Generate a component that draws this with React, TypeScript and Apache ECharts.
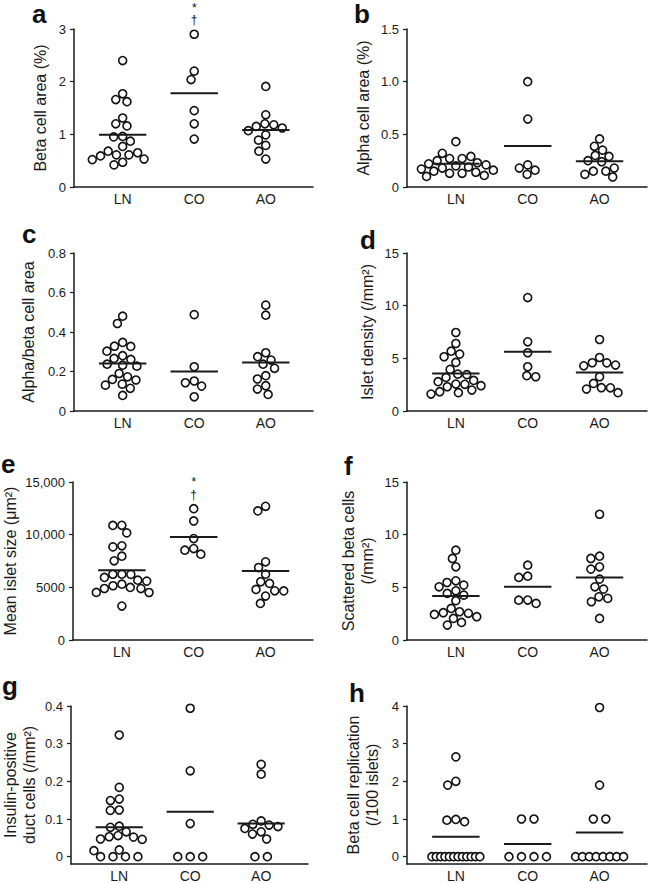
import React, { useEffect, useRef } from 'react';
import * as echarts from 'echarts';

const categories = ['LN', 'CO', 'AO'];

// a: Beta cell area (%)
const betaAreaLN = [2.40, 1.77, 1.66, 1.62, 1.31, 1.20, 1.16, 0.96, 0.95, 0.87, 0.77, 0.68, 0.65, 0.61, 0.61, 0.59, 0.53, 0.52, 0.47, 0.42];
const betaAreaCO = [2.90, 2.20, 2.04, 1.45, 1.20, 0.91];
const betaAreaAO = [1.91, 1.37, 1.20, 1.18, 1.15, 1.12, 1.07, 0.99, 0.89, 0.79, 0.68, 0.53];
const betaAreaMeans = [0.99, 1.78, 1.08];
const betaAreaTicks = [0, 1, 2, 3];
const betaAreaTickLabels = ['0', '1', '2', '3'];

// b: Alpha cell area (%)
const alphaAreaLN = [0.43, 0.32, 0.29, 0.27, 0.27, 0.25, 0.23, 0.22, 0.21, 0.20, 0.19, 0.18, 0.17, 0.16, 0.15, 0.14, 0.13, 0.13, 0.11, 0.10];
const alphaAreaCO = [1.00, 0.645, 0.21, 0.18, 0.16, 0.12];
const alphaAreaAO = [0.456, 0.386, 0.35, 0.30, 0.29, 0.25, 0.24, 0.18, 0.15, 0.15, 0.12, 0.095];
const alphaAreaMeans = [0.22, 0.39, 0.245];
const alphaAreaTicks = [0, 0.5, 1.0, 1.5];
const alphaAreaTickLabels = ['0', '0.5', '1.0', '1.5'];

// c: Alpha/beta cell area
const ratioLN = [0.48, 0.443, 0.347, 0.328, 0.327, 0.303, 0.28, 0.266, 0.261, 0.237, 0.232, 0.227, 0.19, 0.173, 0.16, 0.157, 0.136, 0.131, 0.115, 0.079];
const ratioCO = [0.488, 0.224, 0.152, 0.143, 0.126, 0.072];
const ratioAO = [0.536, 0.485, 0.295, 0.275, 0.258, 0.237, 0.216, 0.179, 0.162, 0.128, 0.111, 0.084];
const ratioMeans = [0.241, 0.20, 0.246];
const ratioTicks = [0, 0.2, 0.4, 0.6, 0.8];
const ratioTickLabels = ['0', '0.2', '0.4', '0.6', '0.8'];

// d: Islet density (/mm2)
const densityLN = [7.45, 6.41, 5.68, 5.40, 5.15, 4.61, 3.95, 3.50, 3.45, 3.19, 2.90, 2.78, 2.56, 2.53, 2.40, 2.30, 1.99, 1.83, 1.74, 1.61];
const densityCO = [10.77, 6.57, 5.53, 4.20, 3.35, 3.25];
const densityAO = [6.79, 5.08, 4.58, 4.57, 4.36, 4.29, 3.25, 2.62, 2.21, 2.20, 2.08, 1.74];
const densityMeans = [3.57, 5.62, 3.66];
const densityTicks = [0, 5, 10, 15];
const densityTickLabels = ['0', '5', '10', '15'];

// e: Mean islet size (um2)
const sizeLN = [10890, 10880, 10170, 8940, 8840, 7960, 7520, 6250, 6240, 6230, 5940, 5680, 5590, 5300, 5150, 4990, 4890, 4880, 4515, 4510, 3220];
const sizeCO = [12470, 11300, 9630, 8680, 8530, 8150];
const sizeAO = [12690, 12250, 7420, 6880, 6250, 5530, 5370, 4800, 4670, 4660, 4170, 3470];
const sizeMeans = [6630, 9780, 6540];
const sizeTicks = [0, 5000, 10000, 15000];
const sizeTickLabels = ['0', '5000', '10,000', '15,000'];

// f: Scattered beta cells (/mm2)
const scatteredLN = [8.53, 7.74, 6.95, 5.62, 5.46, 5.21, 5.05, 4.67, 4.42, 4.26, 3.73, 3.00, 2.68, 2.59, 2.53, 2.43, 2.21, 2.05, 1.67, 1.42];
const scatteredCO = [7.10, 6.06, 5.94, 3.79, 3.78, 3.47];
const scatteredAO = [11.94, 7.96, 7.74, 6.95, 6.73, 5.78, 5.05, 4.83, 4.10, 3.95, 3.63, 2.05];
const scatteredMeans = [4.17, 5.05, 5.94];
const scatteredTicks = [0, 5, 10, 15];
const scatteredTickLabels = ['0', '5', '10', '15'];

// g: Insulin-positive duct cells (/mm2)
const ductLN = [0.323, 0.184, 0.153, 0.149, 0.124, 0.123, 0.081, 0.078, 0.066, 0.056, 0.053, 0.052, 0.047, 0.046, 0.018, 0.016, 0, 0, 0, 0];
const ductCO = [0.394, 0.228, 0.088, 0, 0, 0];
const ductAO = [0.245, 0.219, 0.095, 0.086, 0.084, 0.080, 0.075, 0.066, 0.060, 0.047, 0, 0];
const ductMeans = [0.078, 0.119, 0.088];
const ductTicks = [0, 0.1, 0.2, 0.3, 0.4];
const ductTickLabels = ['0', '0.1', '0.2', '0.3', '0.4'];

// h: Beta cell replication (/100 islets)
const replicationLN = [2.65, 2.0, 1.9, 0.99, 0.97, 0.93, 0, 0, 0, 0, 0, 0, 0, 0, 0, 0, 0, 0];
const replicationCO = [1, 1, 0, 0, 0, 0];
const replicationAO = [3.96, 1.9, 1.0, 1.0, 0, 0, 0, 0, 0, 0, 0, 0];
const replicationMeans = [0.53, 0.335, 0.645];
const replicationTicks = [0, 1, 2, 3, 4];
const replicationTickLabels = ['0', '1', '2', '3', '4'];

// significance markers shown above the CO group
const sigSymbols = ['*', '†'];

const FONT = '"Liberation Sans", Arial, Helvetica, sans-serif';
const INK = '#1a1a1a';
const X_MIN = 0.32;
const X_MAX = 3.66;

const panels = [
  { letter: 'a', name: 'Beta cell area (%)', groups: [betaAreaLN, betaAreaCO, betaAreaAO], means: betaAreaMeans, ticks: betaAreaTicks, labels: betaAreaTickLabels, sig: true },
  { letter: 'b', name: 'Alpha cell area (%)', groups: [alphaAreaLN, alphaAreaCO, alphaAreaAO], means: alphaAreaMeans, ticks: alphaAreaTicks, labels: alphaAreaTickLabels, sig: false },
  { letter: 'c', name: 'Alpha/beta cell area', groups: [ratioLN, ratioCO, ratioAO], means: ratioMeans, ticks: ratioTicks, labels: ratioTickLabels, sig: false },
  { letter: 'd', name: 'Islet density (/mm²)', groups: [densityLN, densityCO, densityAO], means: densityMeans, ticks: densityTicks, labels: densityTickLabels, sig: false },
  { letter: 'e', name: 'Mean islet size (μm²)', groups: [sizeLN, sizeCO, sizeAO], means: sizeMeans, ticks: sizeTicks, labels: sizeTickLabels, sig: true },
  { letter: 'f', name: 'Scattered beta cells\n(/mm²)', groups: [scatteredLN, scatteredCO, scatteredAO], means: scatteredMeans, ticks: scatteredTicks, labels: scatteredTickLabels, sig: false },
  { letter: 'g', name: 'Insulin-positive\nduct cells (/mm²)', groups: [ductLN, ductCO, ductAO], means: ductMeans, ticks: ductTicks, labels: ductTickLabels, sig: false },
  { letter: 'h', name: 'Beta cell replication\n(/100 islets)', groups: [replicationLN, replicationCO, replicationAO], means: replicationMeans, ticks: replicationTicks, labels: replicationTickLabels, sig: false },
];

// layout (pixels)
const layouts = [
  { left: 74, top: 29, width: 239, height: 158, padBelow: 0, nameGap: 24, letterX: 32, letterY: 1 },
  { left: 407, top: 29, width: 240, height: 158, padBelow: 0, nameGap: 34, letterX: 354, letterY: 1 },
  { left: 74, top: 253, width: 239, height: 158, padBelow: 0, nameGap: 36, letterX: 22, letterY: 221 },
  { left: 407, top: 253, width: 240, height: 158, padBelow: 0, nameGap: 30, letterX: 360, letterY: 227 },
  { left: 73, top: 482, width: 240, height: 158, padBelow: 0, nameGap: 53, letterX: 1, letterY: 451 },
  { left: 407, top: 482, width: 240, height: 158, padBelow: 0, nameGap: 30, letterX: 344, letterY: 453 },
  { left: 70, top: 706, width: 238, height: 158, padBelow: 7.3, nameGap: 32, letterX: 2, letterY: 673 },
  { left: 407, top: 706, width: 240, height: 158, padBelow: 7.3, nameGap: 25, letterX: 349, letterY: 680 },
];

// beeswarm layout: returns horizontal pixel offsets for each value
function swarm(vals: number[], pxPerY: number, d: number, tieGap: number, maxHalf: number): number[] {
  const n = vals.length;
  const offs = new Array(n).fill(0);
  const done = new Array(n).fill(false);
  const placed: { x: number; y: number }[] = [];
  const byVal = new Map<number, number[]>();
  vals.forEach((v, i) => {
    const arr = byVal.get(v) || [];
    arr.push(i);
    byVal.set(v, arr);
  });
  byVal.forEach((idxs, v) => {
    if (idxs.length >= 2) {
      const k = idxs.length;
      const sp = Math.min(tieGap, (2 * maxHalf) / (k - 1));
      idxs.forEach((i, j) => {
        offs[i] = (j - (k - 1) / 2) * sp;
        done[i] = true;
        placed.push({ x: offs[i], y: v * pxPerY });
      });
    }
  });
  const order = vals.map((_, i) => i).filter((i) => !done[i]).sort((a, b) => vals[b] - vals[a]);
  for (const i of order) {
    const y = vals[i] * pxPerY;
    const cands = [0];
    for (const p of placed) {
      const dy = Math.abs(p.y - y);
      if (dy < d) {
        const dx = Math.sqrt(d * d - dy * dy);
        cands.push(p.x + dx + 0.01, p.x - dx - 0.01);
      }
    }
    cands.sort((a, b) => Math.abs(a) - Math.abs(b) || a - b);
    let best = cands.find((c) => placed.every((p) => (p.x - c) ** 2 + (p.y - y) ** 2 >= d * d - 0.02));
    if (best === undefined) best = 0;
    offs[i] = best;
    placed.push({ x: best, y });
  }
  return offs;
}

function buildOption() {
  const grid: any[] = [];
  const xAxis: any[] = [];
  const yAxis: any[] = [];
  const series: any[] = [];
  const title: any[] = [];

  panels.forEach((p, i) => {
    const L = layouts[i];
    const max = p.ticks[p.ticks.length - 1];
    const min = L.padBelow > 0 ? -(max * L.padBelow) / (L.height - L.padBelow) : p.ticks[0];
    const pxPerY = L.height / (max - min);
    const pxPerX = L.width / (X_MAX - X_MIN);

    grid.push({ left: L.left, top: L.top, width: L.width, height: L.height });
    title.push({
      text: p.letter,
      left: L.letterX,
      top: L.letterY,
      padding: 0,
      textStyle: { fontSize: 26, fontWeight: 'bold', color: '#111', fontFamily: FONT },
    });
    xAxis.push({
      type: 'value',
      gridIndex: i,
      min: X_MIN,
      max: X_MAX,
      axisLine: { show: true, onZero: false, lineStyle: { color: INK, width: 1.5 } },
      axisTick: { show: false },
      splitLine: { show: false },
      axisLabel: {
        customValues: [1, 2, 3],
        formatter: (v: number) => categories[Math.round(v) - 1] || '',
        fontSize: 14,
        color: INK,
        fontFamily: FONT,
        margin: 5,
      },
    });
    const fmt = (v: number) => {
      const k = p.ticks.findIndex((t) => Math.abs(t - v) < 1e-9);
      return k >= 0 ? p.labels[k] : '';
    };
    yAxis.push({
      type: 'value',
      gridIndex: i,
      min,
      max,
      axisLine: { show: true, onZero: false, lineStyle: { color: INK, width: 1.5 } },
      axisTick: { show: true, customValues: p.ticks, length: 4, lineStyle: { color: INK, width: 1.2 } },
      splitLine: { show: false },
      axisLabel: { customValues: p.ticks, formatter: fmt, fontSize: 13, color: INK, fontFamily: FONT, margin: 8 },
      name: p.name,
      nameLocation: 'middle',
      nameGap: L.nameGap,
      nameRotate: 90,
      nameMoveOverlap: false,
      nameTextStyle: { fontSize: 16, color: INK, fontFamily: FONT, lineHeight: 19 },
    });

    p.groups.forEach((vals, g) => {
      const offs = swarm(vals.map((v) => v - min), pxPerY, 9, 12.5, 24);
      series.push({
        type: 'scatter',
        xAxisIndex: i,
        yAxisIndex: i,
        data: vals.map((v, k) => [g + 1 + offs[k] / pxPerX, v]),
        symbol: 'circle',
        symbolSize: 8,
        itemStyle: { color: '#fff', borderColor: '#111', borderWidth: 1.6, opacity: 1 },
        clip: false,
        silent: true,
        z: 2,
      });
      const hw = 23.7 / pxPerX;
      series.push({
        type: 'line',
        xAxisIndex: i,
        yAxisIndex: i,
        data: [
          [g + 1 - hw, p.means[g]],
          [g + 1 + hw, p.means[g]],
        ],
        symbol: 'none',
        lineStyle: { color: '#1a1a1a', width: 2 },
        silent: true,
        z: 3,
      });
    });

    if (p.sig) {
      const top = Math.max(...p.groups[1]);
      // label boxes sit on top of an invisible anchor (position 'top', distance 0)
      const gaps = [20.5, 8];
      series.push({
        type: 'scatter',
        xAxisIndex: i,
        yAxisIndex: i,
        clip: false,
        silent: true,
        symbol: 'circle',
        symbolSize: 0,
        itemStyle: { color: '#ffffff', opacity: 1 },
        z: 4,
        data: sigSymbols.map((s, k) => ({ value: [2, top + gaps[k] / pxPerY], name: s })),
        label: {
          show: true,
          position: 'top',
          distance: 0,
          formatter: (prm: any) => prm.name,
          fontSize: 12,
          lineHeight: 12,
          color: '#111111',
          fontFamily: FONT,
        },
      });
    }
  });

  return { animation: false, backgroundColor: '#fff', title, grid, xAxis, yAxis, series };
}

export default function App() {
  const ref = useRef<HTMLDivElement>(null);
  useEffect(() => {
    if (!ref.current) return;
    const chart = echarts.init(ref.current, undefined, { renderer: 'svg' });
    chart.setOption(buildOption() as any);
    return () => chart.dispose();
  }, []);
  return (
    <div
      ref={ref}
      style={{ position: 'absolute', left: 0, top: 0, width: 649, height: 883, background: '#fff' }}
    />
  );
}
